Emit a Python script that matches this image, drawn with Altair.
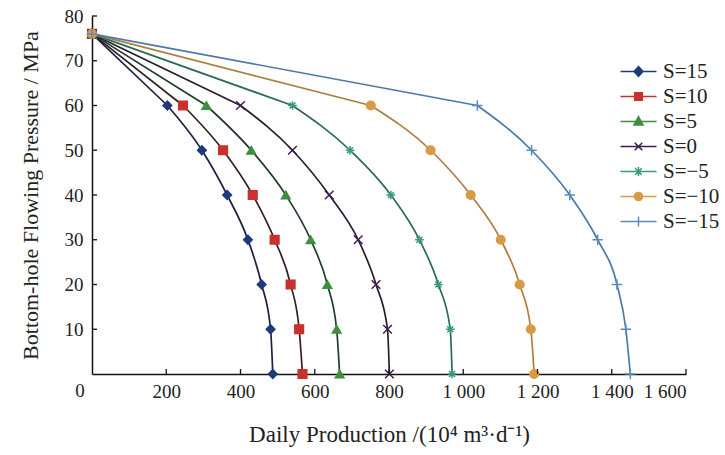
import altair as alt
import pandas as pd

# ---------------- data ----------------
pressure = [76, 60, 50, 40, 30, 20, 10, 0]
series_labels = ["S=15", "S=10", "S=5", "S=0", "S=\u22125", "S=\u221210", "S=\u221215"]
q_s15 = [0, 203, 296, 364, 420, 457, 481, 487]
q_s10 = [0, 245, 353, 433, 492, 535, 558, 567]
q_s5 = [0, 308, 429, 522, 589, 634, 659, 667]
q_s0 = [0, 400, 540, 639, 717, 765, 796, 801]
q_sm5 = [0, 540, 695, 805, 882, 933, 965, 970]
q_sm10 = [0, 751, 912, 1020, 1101, 1152, 1182, 1191]
q_sm15 = [0, 1038, 1184, 1287, 1362, 1414, 1438, 1450]
all_q = [q_s15, q_s10, q_s5, q_s0, q_sm5, q_sm10, q_sm15]

x_ticks = [200, 400, 600, 800, 1000, 1200, 1400, 1600]
y_ticks = [10, 20, 30, 40, 50, 60, 70, 80]

# ---------------- styles ----------------
line_colors = ["#1c2145", "#35201f", "#1f3d27", "#2a1c33", "#2b6a57", "#a9803f", "#4c79aa"]
marker_colors = ["#1f3a7c", "#c8312c", "#3d8f3d", "#3d1d4f", "#3a9a7a", "#d99a45", "#5b8cc0"]
marker_shapes = [
    "diamond",
    "square",
    "triangle-up",
    "M-1,-1L1,1M-1,1L1,-1",
    "M-1,0H1M0,-1V1M-0.7,-0.7L0.7,0.7M-0.7,0.7L0.7,-0.7",
    "circle",
    "M-1.2,0H1.2M0,-1.2V1.2",
]
# legend symbols: a short line with the marker in the middle (1 unit = 9 px)
legend_shapes = [
    "M-2,0H2M0,-0.55L0.5,0L0,0.55L-0.5,0Z",
    "M-2,0H2M-0.42,-0.42H0.42V0.42H-0.42Z",
    "M-2,0H2M0,-0.55L0.5,0.4H-0.5Z",
    "M-2,0H2M-0.42,-0.42L0.42,0.42M-0.42,0.42L0.42,-0.42",
    "M-2,0H2M0,-0.5V0.5M-0.36,-0.36L0.36,0.36M-0.36,0.36L0.36,-0.36",
    "M-2,0H2M0.45,0A0.45,0.45,0,1,1,-0.45,0A0.45,0.45,0,1,1,0.45,0Z",
    "M-2,0H2M0,-0.55V0.55",
]

SERIF = "Liberation Serif"

rows = []
for lab, qs in zip(series_labels, all_q):
    for i, (q, p) in enumerate(zip(qs, pressure)):
        rows.append({"S": lab, "q": q, "p": p, "idx": i})
df = pd.DataFrame(rows)

xscale = alt.Scale(domain=[0, 1600], nice=False)
yscale = alt.Scale(domain=[0, 80], nice=False)

label_expr = "datum.value >= 1000 ? replace(format(datum.value, ','), ',', ' ') : format(datum.value, 'd')"

X = alt.X(
    "q:Q",
    scale=xscale,
    axis=alt.Axis(
        values=x_ticks,
        labelExpr=label_expr,
        title="Daily Production /(10\u2074 m\u00b3\u00b7d\u207b\u00b9)",
        titleFontSize=23,
        ticks=False,
        grid=False,
        labelPadding=8,
        titlePadding=22,
    ),
)
Y = alt.Y(
    "p:Q",
    scale=yscale,
    axis=alt.Axis(
        values=y_ticks,
        title="Bottom-hole Flowing Pressure / MPa",
        titleFontSize=22,
        ticks=False,
        grid=False,
        labelPadding=9,
        titlePadding=22,
    ),
)

line_color = alt.Color("S:N", scale=alt.Scale(domain=series_labels, range=line_colors), legend=None)

# straight first segment (initial pressure to 60 MPa), smooth curve below
lines_top = alt.Chart(df).transform_filter("datum.idx <= 1").mark_line(strokeWidth=1.7).encode(
    x=X, y=Y, color=line_color, order=alt.Order("idx:Q")
)
lines_low = alt.Chart(df).transform_filter("datum.idx >= 1").mark_line(
    interpolate="monotone", strokeWidth=1.7
).encode(x=X, y=Y, color=line_color, order=alt.Order("idx:Q"))

points = alt.Chart(df).mark_point(filled=True, size=75, strokeWidth=1.5, opacity=1).encode(
    x=X,
    y=Y,
    shape=alt.Shape("S:N", scale=alt.Scale(domain=series_labels, range=marker_shapes), legend=None),
    fill=alt.Fill("S:N", scale=alt.Scale(domain=series_labels, range=marker_colors), legend=None),
    stroke=alt.Stroke("S:N", scale=alt.Scale(domain=series_labels, range=marker_colors), legend=None),
)

leg = alt.Legend(
    orient="none",
    legendX=536,
    legendY=45,
    title=None,
    labelFont=SERIF,
    labelFontSize=21,
    labelColor="#222222",
    symbolSize=324,
    symbolStrokeWidth=1.5,
    labelOffset=14,
    rowPadding=3,
    padding=0,
)

legend_df = pd.DataFrame({"S": series_labels, "q": [0] * 7, "p": [-50] * 7})
legend_layer = alt.Chart(legend_df).mark_point(filled=True, clip=True, strokeWidth=1.5, opacity=1).encode(
    x=alt.X("q:Q", scale=xscale),
    y=alt.Y("p:Q", scale=yscale),
    shape=alt.Shape("S:N", scale=alt.Scale(domain=series_labels, range=legend_shapes), legend=leg),
    fill=alt.Fill("S:N", scale=alt.Scale(domain=series_labels, range=marker_colors), legend=leg),
    stroke=alt.Stroke("S:N", scale=alt.Scale(domain=series_labels, range=marker_colors), legend=leg),
)

ytick_layer = alt.Chart(pd.DataFrame({"v": y_ticks})).mark_rule(color="#111111", strokeWidth=1.3).encode(
    y=alt.Y("v:Q", scale=yscale), x=alt.value(0), x2=alt.value(5)
)
xtick_layer = alt.Chart(pd.DataFrame({"v": x_ticks})).mark_rule(color="#111111", strokeWidth=1.3).encode(
    x=alt.X("v:Q", scale=xscale), y=alt.value(358), y2=alt.value(353)
)

origin_label = alt.Chart(pd.DataFrame({"t": ["0"]})).mark_text(
    font=SERIF, fontSize=19, color="#222222", dx=-12, dy=17
).encode(x=alt.datum(0), y=alt.datum(0), text="t:N")

chart = (
    alt.layer(lines_top, lines_low, points, ytick_layer, xtick_layer, origin_label, legend_layer)
    .resolve_scale(shape="independent", fill="independent", stroke="independent")
    .properties(
        width=594,
        height=358,
        autosize=alt.AutoSizeParams(type="none"),
        padding={"left": 92, "top": 16, "right": 39, "bottom": 81},
        background="white",
    )
    .configure_view(stroke=None)
    .configure_axis(
        domainColor="#111111",
        domainWidth=1.5,
        labelFont=SERIF,
        labelFontSize=19,
        labelColor="#222222",
        titleFont=SERIF,
        titleFontWeight="normal",
        titleColor="#222222",
    )
)

chart.save("out.html", embed_options={"renderer": "svg", "actions": False})
